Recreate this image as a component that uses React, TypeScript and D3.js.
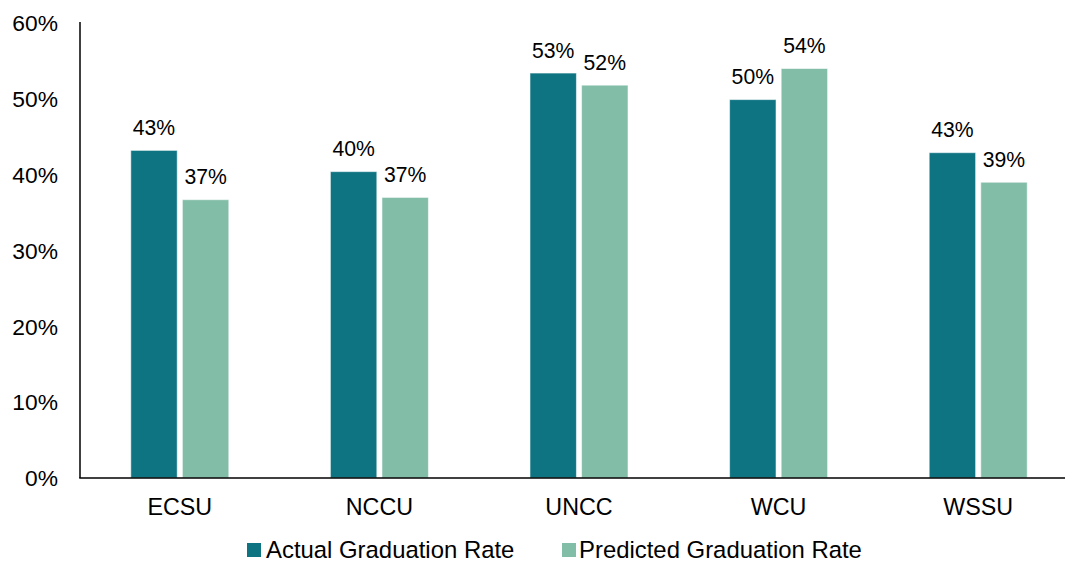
import React from "react";
import * as d3 from "d3";

const categories = ["ECSU", "NCCU", "UNCC", "WCU", "WSSU"];
const seriesNames = ["Actual Graduation Rate", "Predicted Graduation Rate"];
const actualRate = [43.2, 40.4, 53.4, 49.9, 42.9];
const predictedRate = [36.7, 37.0, 51.8, 54.0, 39.0];
const yTicks = [0, 10, 20, 30, 40, 50, 60];
const colors = ["#0F7482", "#82BDA8"];

const W = 1065;
const H = 562;
const FONT = "'Liberation Sans', Arial, sans-serif";

export default function App() {
  const x0 = d3
    .scaleBand<string>()
    .domain(categories)
    .range([80, 1078])
    .paddingInner(0.509)
    .paddingOuter(0.2545);
  const x1 = d3
    .scaleBand<string>()
    .domain(seriesNames)
    .range([0, x0.bandwidth()])
    .paddingInner(0.1);
  const y = d3.scaleLinear().domain([0, 60]).range([478, 23]);
  const fmt = (v: number) => d3.format(".0%")(Math.round(v) / 100);
  const series = [actualRate, predictedRate];

  return (
    <svg
      width={W}
      height={H}
      style={{ position: "absolute", left: 0, top: 0, display: "block", background: "#fff" }}
      fontFamily={FONT}
    >
      {/* bars */}
      {categories.map((c, i) => (
        <g key={c} transform={`translate(${x0(c)},0)`}>
          {seriesNames.map((s, j) => {
            const v = series[j][i];
            const bx = x1(s)!;
            const bw = x1.bandwidth();
            return (
              <g key={s}>
                <rect
                  x={bx}
                  y={y(v)}
                  width={bw}
                  height={y(0) - y(v)}
                  fill={colors[j]}
                  stroke="#ffffff"
                  strokeOpacity={0.55}
                  strokeWidth={1}
                />
                <text
                  x={bx + bw / 2}
                  y={y(v) - 15.5}
                  textAnchor="middle"
                  fontSize={21.2}
                  fill="#000"
                >
                  {fmt(v)}
                </text>
              </g>
            );
          })}
          <text
            x={x0.bandwidth() / 2}
            y={515}
            textAnchor="middle"
            fontSize={23.3}
            fill="#000"
          >
            {c}
          </text>
        </g>
      ))}

      {/* y axis ticks */}
      {yTicks.map((t) => (
        <text
          key={t}
          x={58}
          y={y(t)}
          dy="0.36em"
          textAnchor="end"
          fontSize={22.8}
          fill="#000"
        >
          {t + "%"}
        </text>
      ))}

      {/* axes */}
      <line x1={80} x2={80} y1={22} y2={y(0)} stroke="#000" strokeWidth={1.5} />
      <line x1={79.25} x2={1080} y1={y(0)} y2={y(0)} stroke="#000" strokeWidth={1.5} />

      {/* legend */}
      {[{ sx: 247, tx: 266 }, { sx: 562, tx: 579 }].map((p, j) => (
        <g key={j}>
          <rect x={p.sx} y={543} width={14} height={14} fill={colors[j]} />
          <text x={p.tx} y={557.5} fontSize={23.9} fill="#000">
            {seriesNames[j]}
          </text>
        </g>
      ))}
    </svg>
  );
}
